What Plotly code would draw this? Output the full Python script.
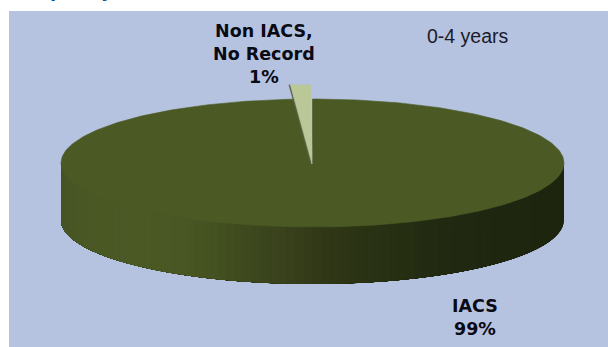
import math
import plotly.graph_objects as go

# Data
categories = ["IACS", "Non IACS,<br>No Record"]
shares = [99, 1]
inset_label = "0-4 years"
header_text = "Scope, by State"

# Styles
W, H = 608, 347
PANEL_LEFT, PANEL_TOP = 9, 11
PANEL = "#B5C3E0"
TOP_GREEN = "#4B5A25"
WEDGE = "#BAC797"
WEDGE_EDGE = "#5A6148"
CX, CY, RX, RY, DEPTH = 312.5, 163, 251.5, 64, 57
POP_X, POP_Y = 1.27, 1.22
SHADE_STOPS = [
    (61, (70, 84, 36)), (85, (73, 88, 36)), (140, (75, 90, 37)), (190, (72, 86, 35)),
    (235, (64, 76, 31)), (280, (57, 66, 28)), (320, (48, 56, 23)), (370, (42, 50, 20)),
    (430, (34, 42, 17)), (500, (31, 38, 16)), (564, (30, 37, 15)),
]


def shade(x):
    for (x0, c0), (x1, c1) in zip(SHADE_STOPS, SHADE_STOPS[1:]):
        if x <= x1:
            t = max(0, (x - x0) / (x1 - x0))
            return "rgb(%d,%d,%d)" % tuple(round(a + (b - a) * t) for a, b in zip(c0, c1))
    return "rgb(30,37,15)"


def rim(angle):
    # angle measured clockwise from 12 o'clock, in degrees
    r = math.radians(angle)
    return CX + RX * math.sin(r), CY - RY * math.cos(r)


total = sum(shares)
main_sweep = 360 * shares[0] / total
small_sweep = 360 * shares[1] / total

fig = go.Figure()


def poly(xs, ys, color, lw=0.6):
    fig.add_trace(go.Scatter(x=xs, y=ys, mode="lines", fill="toself", fillcolor=color,
                             line=dict(color=color, width=lw), hoverinfo="skip", showlegend=False))


# Side wall of the large slice, painted so strips overlap without seams
STEPS = 90
for i in range(STEPS):
    a0 = 90 + 180 * i / STEPS
    a1 = 90 + 180 * (i + 1) / STEPS
    arc = [rim(a0 + (180 - (a0 - 90)) * j / 30) for j in range(31)]
    xs = [p[0] for p in arc]
    ys = [p[1] for p in arc]
    xm = (rim(a0)[0] + rim(a1)[0]) / 2
    poly(xs + xs[::-1] + xs[:1], ys + [y + DEPTH for y in ys[::-1]] + ys[:1], shade(xm), lw=0)

# Top face of the large slice
angles = [main_sweep * i / 360 for i in range(361)]
pts = [rim(a) for a in angles]
poly([CX] + [p[0] for p in pts] + [CX], [CY - 1] + [p[1] for p in pts] + [CY - 1], TOP_GREEN)

# Pulled-out small slice
half_w = RX * math.sin(math.radians(small_sweep)) * POP_X
top_y = CY - RY * POP_Y
right_x = CX - 2
left_x = right_x - half_w
apex_x, apex_y = CX - 0.5, CY + 1
poly([left_x - 1.5, left_x, apex_x, apex_x - 1, left_x - 1.5],
     [top_y, top_y, apex_y, apex_y, top_y], WEDGE_EDGE)
poly([left_x, right_x, apex_x, left_x], [top_y, top_y, apex_y, top_y], WEDGE)

label_font = dict(family="DejaVu Sans", size=17.5, color="#0A0A14")
annotations = [
    dict(x=264, y=54, xref="x", yref="y", text="<b>%s<br>%d%%</b>" % (categories[1], shares[1]), font=label_font, align="center"),
    dict(x=475, y=317, xref="x", yref="y", text="<b>%s<br>%d%%</b>" % (categories[0], shares[0]), font=label_font, align="center"),
    dict(x=468, y=36, xref="x", yref="y", text=inset_label, font=dict(family="Liberation Sans", size=19.5, color="#1A1A2A")),
    dict(x=12, xref="x", y=1 + (PANEL_TOP - 3) / (H - PANEL_TOP), yref="paper", text="<b>%s</b>" % header_text,
         xanchor="left", yanchor="bottom", font=dict(family="DejaVu Sans", size=18, color="#0B57A4")),
]
for a in annotations:
    a.update(showarrow=False)
    a.setdefault("xanchor", "center")
    a.setdefault("yanchor", "middle")

fig.update_layout(
    width=W, height=H, autosize=False,
    margin=dict(l=PANEL_LEFT, t=PANEL_TOP, r=0, b=0, pad=0),
    paper_bgcolor="white", plot_bgcolor=PANEL, showlegend=False,
    xaxis=dict(range=[PANEL_LEFT, W], visible=False, fixedrange=True),
    yaxis=dict(range=[H, PANEL_TOP], visible=False, fixedrange=True),
    annotations=annotations,
)
fig.write_html("out.html", config={"displayModeBar": False},
               post_script="document.body.style.margin='0';document.body.style.overflow='hidden';")
